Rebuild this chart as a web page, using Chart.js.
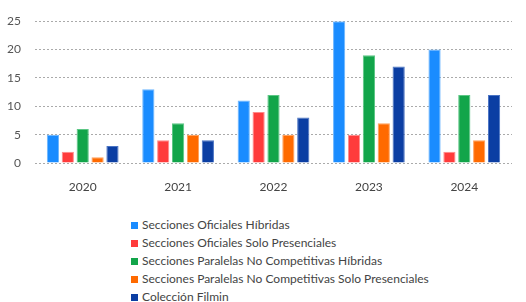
<!DOCTYPE html>
<html>
<head>
<meta charset="utf-8">
<script src="https://cdn.jsdelivr.net/npm/chart.js@4"></script>
<style>
  body { margin: 0; background: #fff; font-family: "Lato", sans-serif; }
  #wrap { position: relative; width: 526px; height: 302px; }
  #chartBox { position: absolute; left: 0; top: 0; width: 526px; height: 195px; }
  #legend { position: absolute; left: 131px; top: 216px; font-size: 12px; color: #444; }
  #legend div { height: 18px; line-height: 18px; white-space: nowrap; }
  #legend span { display: inline-block; width: 7px; height: 7px; margin-right: 4px; vertical-align: 0px; }
</style>
</head>
<body>
<div id="wrap">
  <div id="chartBox"><canvas id="myChart"></canvas></div>
  <div id="legend"></div>
</div>
<script>
const years = ['2020', '2021', '2022', '2023', '2024'];
const oficialesHibridas = [5, 13, 11, 25, 20];
const oficialesPresenciales = [2, 4, 9, 5, 2];
const paralelasHibridas = [6, 7, 12, 19, 12];
const paralelasPresenciales = [1, 5, 5, 7, 4];
const coleccionFilmin = [3, 4, 8, 17, 12];
const yTicks = [0, 5, 10, 15, 20, 25];

const seriesNames = [
  'Secciones Oficiales Híbridas',
  'Secciones Oficiales Solo Presenciales',
  'Secciones Paralelas No Competitivas Híbridas',
  'Secciones Paralelas No Competitivas Solo Presenciales',
  'Colección Filmin'
];
const seriesData = [oficialesHibridas, oficialesPresenciales, paralelasHibridas, paralelasPresenciales, coleccionFilmin];
const colors = ['#1a8cff', '#ff3b3b', '#12a54a', '#ff6a00', '#0b3ea3'];
const borders = ['#6cb6ff', '#ff8a8a', '#5cc785', '#ff9f5a', '#4a74c4'];

const datasets = seriesNames.map((name, i) => ({
  label: name,
  data: seriesData[i],
  backgroundColor: colors[i],
  borderColor: borders[i],
  borderWidth: 1,
  categoryPercentage: 0.78,
  barPercentage: 0.82
}));

const tickFont = { family: 'Lato, sans-serif', size: 12 };

const ctx = document.getElementById('myChart').getContext('2d');
new Chart(ctx, {
  type: 'bar',
  data: { labels: years, datasets: datasets },
  options: {
    responsive: true,
    maintainAspectRatio: false,
    animation: false,
    layout: { padding: { top: 10, right: 14, left: 0, bottom: 0 } },
    plugins: {
      legend: { display: false },
      tooltip: { enabled: false }
    },
    scales: {
      x: {
        grid: { display: false },
        border: { display: false },
        ticks: { color: '#444', font: tickFont, padding: 9 },
        afterFit: s => { s.height = 32; }
      },
      y: {
        min: 0,
        max: 25,
        afterBuildTicks: s => { s.ticks = yTicks.map(v => ({ value: v })); },
        grid: { color: '#aaa', lineWidth: 1, drawTicks: false },
        border: { display: false, dash: [2, 2] },
        ticks: { color: '#555', font: tickFont, padding: 14 },
        afterFit: s => { s.width = 35; }
      }
    }
  }
});

const legend = document.getElementById('legend');
seriesNames.forEach((name, i) => {
  const row = document.createElement('div');
  row.innerHTML = '<span style="background:' + colors[i] + '"></span>' + name;
  legend.appendChild(row);
});
</script>
</body>
</html>
